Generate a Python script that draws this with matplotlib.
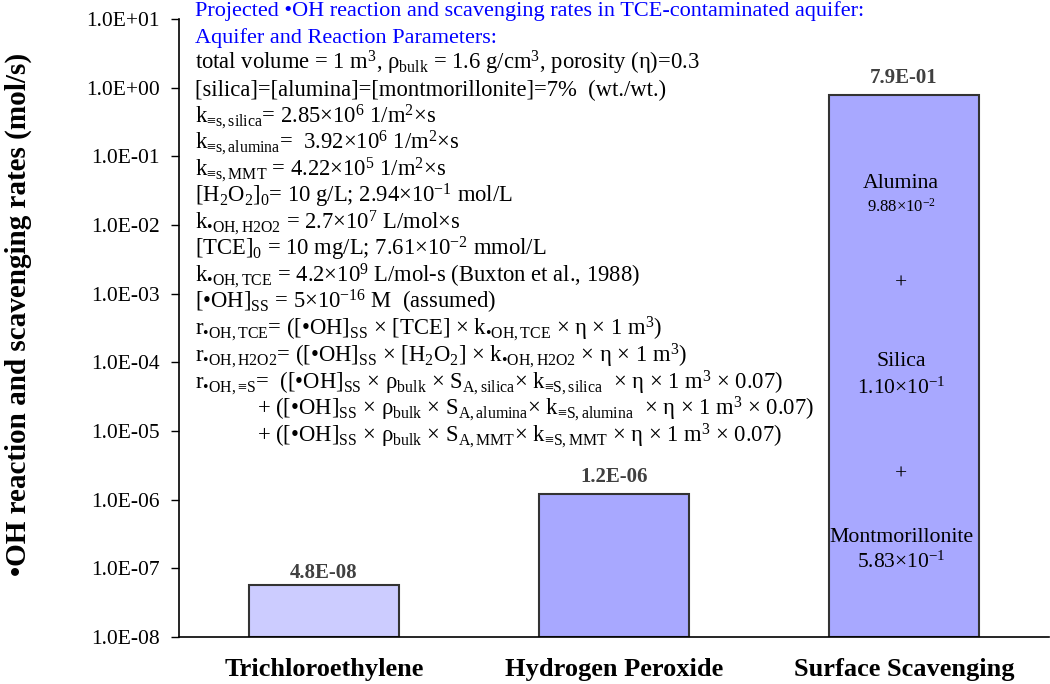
import numpy as np
import matplotlib
matplotlib.use("Agg")
import matplotlib.pyplot as plt
import matplotlib.transforms as mtransforms

plt.rcParams['font.family'] = ['Liberation Serif', 'DejaVu Serif']
plt.rcParams['mathtext.fontset'] = 'custom'
plt.rcParams['mathtext.rm'] = 'Liberation Serif'
plt.rcParams['mathtext.it'] = 'Liberation Serif:italic'
plt.rcParams['mathtext.bf'] = 'Liberation Serif:bold'

# data
categories = ["Trichloroethylene", "Hydrogen Peroxide", "Surface Scavenging"]
rates = [4.8e-08, 1.2e-06, 7.9e-01]
bar_colors = ["#CCCCFF", "#A8A8FF", "#A8A8FF"]
ytick_values = [1e-08, 1e-07, 1e-06, 1e-05, 1e-04, 1e-03, 1e-02, 1e-01, 1e+00, 1e+01]

surface_names = ["Alumina", "Silica", "Montmorillonite"]
surface_mantissa = ["9.88", "1.10", "5.83"]
surface_exponent = ["-2", "-1", "-1"]

title_lines = [
    "Projected •OH reaction and scavenging rates in TCE-contaminated aquifer:",
    "Aquifer and Reaction Parameters:",
]
param_lines = [
    r"total volume = 1 m$^{3}$, ρ$_{\mathrm{bulk}}$ = 1.6 g/cm$^{3}$, porosity (η)=0.3",
    "[silica]=[alumina]=[montmorillonite]=7%  (wt./wt.)",
    r"k$_{\mathrm{≡s,silica}}$= 2.85×10$^{6}$ 1/m$^{2}$×s",
    r"k$_{\mathrm{≡s,alumina}}$=  3.92×10$^{6}$ 1/m$^{2}$×s",
    r"k$_{\mathrm{≡s,MMT}}$ = 4.22×10$^{5}$ 1/m$^{2}$×s",
    r"[H$_{2}$O$_{2}$]$_{0}$= 10 g/L; 2.94×10$^{-1}$ mol/L",
    r"k$_{\mathrm{•OH,H2O2}}$ = 2.7×10$^{7}$ L/mol×s",
    r"[TCE]$_{0}$ = 10 mg/L; 7.61×10$^{-2}$ mmol/L",
    r"k$_{\mathrm{•OH,TCE}}$ = 4.2×10$^{9}$ L/mol-s (Buxton et al., 1988)",
    r"[•OH]$_{\mathrm{SS}}$ = 5×10$^{-16}$ M  (assumed)",
    r"r$_{\mathrm{•OH,TCE}}$= ([•OH]$_{\mathrm{SS}}$ × [TCE] × k$_{\mathrm{•OH,TCE}}$ × η × 1 m$^{3}$)",
    r"r$_{\mathrm{•OH,H2O2}}$= ([•OH]$_{\mathrm{SS}}$ × [H$_{2}$O$_{2}$] × k$_{\mathrm{•OH,H2O2}}$ × η × 1 m$^{3}$)",
    r"r$_{\mathrm{•OH,≡S}}$=  ([•OH]$_{\mathrm{SS}}$ × ρ$_{\mathrm{bulk}}$ × S$_{\mathrm{A,silica}}$× k$_{\mathrm{≡S,silica}}$  × η × 1 m$^{3}$ × 0.07)",
    r"+ ([•OH]$_{\mathrm{SS}}$ × ρ$_{\mathrm{bulk}}$ × S$_{\mathrm{A,alumina}}$× k$_{\mathrm{≡S,alumina}}$  × η × 1 m$^{3}$ × 0.07)",
    r"+ ([•OH]$_{\mathrm{SS}}$ × ρ$_{\mathrm{bulk}}$ × S$_{\mathrm{A,MMT}}$× k$_{\mathrm{≡S,MMT}}$ × η × 1 m$^{3}$ × 0.07)",
]
indented = [False] * 13 + [True, True]

W, H = 1050, 684
fig = plt.figure(figsize=(W / 100, H / 100), dpi=100)
ax = fig.add_axes([179 / W, 1 - 637 / H, 870 / W, 618 / H])

x = np.arange(len(categories))
ax.bar(x, rates, width=0.52, bottom=1e-08, color=bar_colors,
       edgecolor="#333333", linewidth=1.5, zorder=2)
ax.set_yscale("log")
ax.set_ylim(1e-08, 1e+01)
ax.set_xlim(-0.5, 2.5)

ax.set_yticks(ytick_values)
ax.set_yticklabels([f"{v:.1E}" for v in ytick_values])
ax.yaxis.set_minor_locator(matplotlib.ticker.NullLocator())
ax.tick_params(axis="y", direction="out", length=6, width=1, labelsize=15.5, pad=8)
ax.set_xticks(x)
ax.set_xticklabels(categories, fontsize=19, fontweight="bold")
ax.tick_params(axis="x", length=0, pad=15)
for s in ["top", "right"]:
    ax.spines[s].set_visible(False)
for s in ["left", "bottom"]:
    ax.spines[s].set_linewidth(1.2)

# value labels
for xi, r in zip(x, rates):
    ax.annotate(f"{r:.1E}", (xi, r), xytext=(0, 17), textcoords="offset pixels",
                ha="center", va="center", fontsize=15, fontweight="bold",
                color="#404040")

fig.text(18 / W, 1 - 314 / H, "•OH reaction and scavenging rates (mol/s)",
         rotation=90, ha="center", va="center", fontsize=21, fontweight="bold")

# parameter text block
lh = 26.6
for i, t in enumerate(title_lines):
    fig.text(195 / W, 1 - (16 + lh * i) / H, t, color="#0000FF",
             fontsize=16, ha="left", va="baseline")
for j, (t, ind) in enumerate(zip(param_lines, indented)):
    i = j + 2
    xp = 257 if ind else 195
    fig.text(xp / W, 1 - (16 + lh * i) / H, t, color="black",
             fontsize=16.3, ha="left", va="baseline")

# surface scavenging breakdown
trans = mtransforms.blended_transform_factory(ax.transData, ax.transAxes)
name_y = [183, 361, 537]
val_y = [207, 388, 562]
val_size = [12, 15.5, 15.5]
plus_y = [284, 475]
for n, m, e, ny, vy, vs in zip(surface_names, surface_mantissa, surface_exponent,
                               name_y, val_y, val_size):
    ax.text(1.99, (637 - ny) / 618, n, transform=trans, ha="center",
            va="center", fontsize=15.7)
    ax.text(1.99, (637 - vy) / 618, m + "×10$^{" + e + "}$", transform=trans,
            ha="center", va="center", fontsize=vs)
for py in plus_y:
    ax.text(1.99, (637 - py) / 618, "+", transform=trans, ha="center",
            va="center", fontsize=15.5)

fig.savefig("out.png", dpi=100)
